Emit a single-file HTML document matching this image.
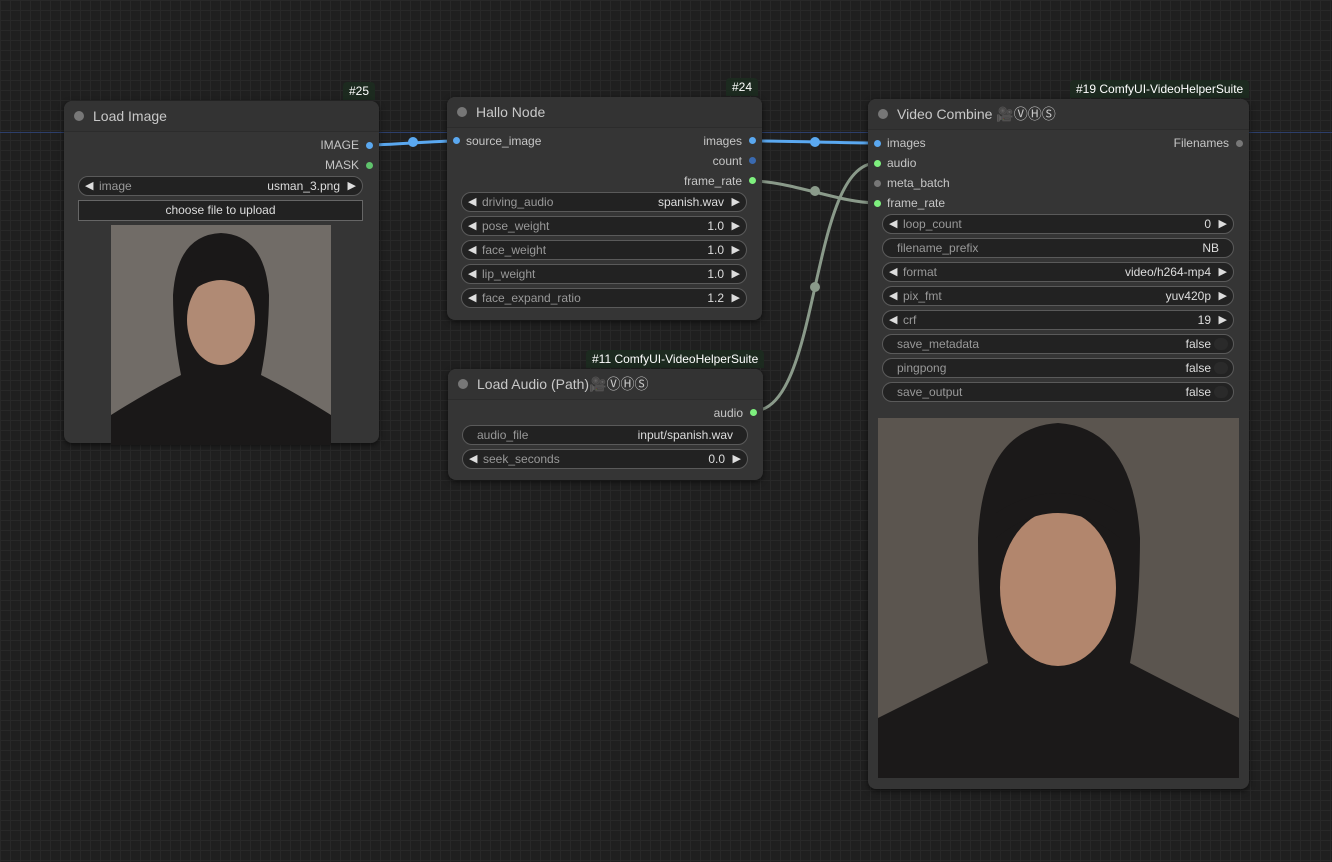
<!DOCTYPE html>
<html><head><style>
body{margin:0;width:1332px;height:862px;overflow:hidden;background:#1f1f1f;
background-image:linear-gradient(#282828 1px,transparent 1px),linear-gradient(90deg,#282828 1px,transparent 1px);background-size:10px 10px;
font-family:"Liberation Sans",sans-serif;position:relative}
.n{position:absolute;background:#353535;border-radius:8px;box-shadow:0 2px 6px rgba(0,0,0,.6)}
.t{height:30px;border-bottom:1px solid #2c2c2c;background:#333;border-radius:8px 8px 0 0;color:#c8c8c8;font-size:14px;line-height:30px;padding-left:29px;position:relative}
.t:before{content:"";position:absolute;left:10px;top:10px;width:10px;height:10px;border-radius:50%;background:#777}
.b{position:absolute;background:#1c2a1f;color:#fff;font-size:12px;height:18px;line-height:18px;padding:0 6px;border-radius:4px 4px 0 0}
.s{position:absolute;font-size:12px;color:#c6c6c6;height:20px;line-height:20px}
.d{position:absolute;width:7px;height:7px;border-radius:50%}
.w{position:absolute;height:18px;border:1px solid #5a5a5a;border-radius:10px;background:#222;font-size:12px;line-height:18px;color:#999}
.w .l{position:absolute;left:20px}.w .v{position:absolute;right:22px;color:#ddd}
.w .a{position:absolute;left:6px;color:#ddd;font-size:11px}.w .z{position:absolute;right:6px;color:#ddd;font-size:11px}
.tg{position:absolute;right:5px;top:3px;width:14px;height:12px;border-radius:6px;background:#2a2a2a}
</style></head><body>
<div style="position:absolute;left:0;top:132px;width:1332px;height:1px;background:#2c3e6a"></div>

<svg width="1332" height="862" style="position:absolute;left:0;top:0;z-index:0">
<path d="M369 145 C390 145,435 141,456 141" stroke="#5aa8f0" stroke-width="3" fill="none"/>
<circle cx="413" cy="142" r="5" fill="#5aa8f0"/>
<path d="M752 141 C790 141,840 143,877 143" stroke="#5aa8f0" stroke-width="3" fill="none"/>
<circle cx="815" cy="142" r="5" fill="#5aa8f0"/>
<path d="M752 181 C790 181,840 203,877 203" stroke="#8a9a8a" stroke-width="3" fill="none"/>
<circle cx="815" cy="191" r="5" fill="#8a9a8a"/>
<path d="M753 411 C822 411,808 163,877 163" stroke="#8a9a8a" stroke-width="3" fill="none"/>
<circle cx="815" cy="287" r="5" fill="#8a9a8a"/>
</svg>

<!-- Load Image -->
<div class="b" style="left:343px;top:82px">#25</div>
<div class="n" style="left:64px;top:101px;width:315px;height:342px">
<div class="t">Load Image</div>
<div class="s" style="right:20px;top:34px">IMAGE</div><div class="d" style="right:6px;top:41px;background:#5aa8f0"></div>
<div class="s" style="right:20px;top:54px">MASK</div><div class="d" style="right:6px;top:61px;background:#5fc36c"></div>
<div class="w" style="left:14px;top:75px;width:283px"><span class="a">◀</span><span class="l">image</span><span class="v">usman_3.png</span><span class="z">▶</span></div>
<div style="position:absolute;left:14px;top:99px;width:283px;height:19px;border:1px solid #666;background:#222;color:#ddd;font-size:12px;text-align:center;line-height:19px">choose file to upload</div>
<svg style="position:absolute;left:47px;top:124px" width="220" height="220">
<rect width="220" height="220" fill="#716c67"/>
<path d="M0 220 L0 190 Q40 165 70 150 Q62 110 62 70 Q66 10 110 8 Q154 10 158 70 Q158 110 150 150 Q180 165 220 190 L220 220Z" fill="#1a1818"/>
<ellipse cx="110" cy="95" rx="34" ry="45" fill="#b08a74"/>
<path d="M76 70 Q110 40 144 70 L144 55 Q110 30 76 55Z" fill="#1a1818"/>
</svg>
</div>

<!-- Hallo -->
<div class="b" style="left:726px;top:78px">#24</div>
<div class="n" style="left:447px;top:97px;width:315px;height:223px">
<div class="t">Hallo Node</div>
<div class="d" style="left:6px;top:40px;background:#5aa8f0"></div><div class="s" style="left:19px;top:34px">source_image</div>
<div class="s" style="right:20px;top:34px">images</div><div class="d" style="right:6px;top:40px;background:#5aa8f0"></div>
<div class="s" style="right:20px;top:54px">count</div><div class="d" style="right:6px;top:60px;background:#3a6ab0"></div>
<div class="s" style="right:20px;top:74px">frame_rate</div><div class="d" style="right:6px;top:80px;background:#7ef07e"></div>
<div class="w" style="left:14px;top:95px;width:284px"><span class="a">◀</span><span class="l">driving_audio</span><span class="v">spanish.wav</span><span class="z">▶</span></div>
<div class="w" style="left:14px;top:119px;width:284px"><span class="a">◀</span><span class="l">pose_weight</span><span class="v">1.0</span><span class="z">▶</span></div>
<div class="w" style="left:14px;top:143px;width:284px"><span class="a">◀</span><span class="l">face_weight</span><span class="v">1.0</span><span class="z">▶</span></div>
<div class="w" style="left:14px;top:167px;width:284px"><span class="a">◀</span><span class="l">lip_weight</span><span class="v">1.0</span><span class="z">▶</span></div>
<div class="w" style="left:14px;top:191px;width:284px"><span class="a">◀</span><span class="l">face_expand_ratio</span><span class="v">1.2</span><span class="z">▶</span></div>
</div>

<!-- Load Audio -->
<div class="b" style="left:586px;top:350px">#11 ComfyUI-VideoHelperSuite</div>
<div class="n" style="left:448px;top:369px;width:315px;height:111px">
<div class="t">Load Audio (Path)🎥ⓋⒽⓈ</div>
<div class="s" style="right:20px;top:34px">audio</div><div class="d" style="right:6px;top:40px;background:#7ef07e"></div>
<div class="w" style="left:14px;top:56px;width:284px"><span class="l" style="left:14px">audio_file</span><span class="v" style="right:14px">input/spanish.wav</span></div>
<div class="w" style="left:14px;top:80px;width:284px"><span class="a">◀</span><span class="l">seek_seconds</span><span class="v">0.0</span><span class="z">▶</span></div>
</div>

<!-- Video Combine -->
<div class="b" style="left:1070px;top:80px">#19 ComfyUI-VideoHelperSuite</div>
<div class="n" style="left:868px;top:99px;width:381px;height:690px">
<div class="t">Video Combine 🎥ⓋⒽⓈ</div>
<div class="d" style="left:6px;top:41px;background:#5aa8f0"></div><div class="s" style="left:19px;top:34px">images</div>
<div class="d" style="left:6px;top:61px;background:#7ef07e"></div><div class="s" style="left:19px;top:54px">audio</div>
<div class="d" style="left:6px;top:81px;background:#777"></div><div class="s" style="left:19px;top:74px">meta_batch</div>
<div class="d" style="left:6px;top:101px;background:#7ef07e"></div><div class="s" style="left:19px;top:94px">frame_rate</div>
<div class="s" style="right:20px;top:34px">Filenames</div><div class="d" style="right:6px;top:41px;background:#777"></div>
<div class="w" style="left:14px;top:115px;width:350px"><span class="a">◀</span><span class="l">loop_count</span><span class="v">0</span><span class="z">▶</span></div>
<div class="w" style="left:14px;top:139px;width:350px"><span class="l" style="left:14px">filename_prefix</span><span class="v" style="right:14px">NB</span></div>
<div class="w" style="left:14px;top:163px;width:350px"><span class="a">◀</span><span class="l">format</span><span class="v">video/h264-mp4</span><span class="z">▶</span></div>
<div class="w" style="left:14px;top:187px;width:350px"><span class="a">◀</span><span class="l">pix_fmt</span><span class="v">yuv420p</span><span class="z">▶</span></div>
<div class="w" style="left:14px;top:211px;width:350px"><span class="a">◀</span><span class="l">crf</span><span class="v">19</span><span class="z">▶</span></div>
<div class="w" style="left:14px;top:235px;width:350px"><span class="l" style="left:14px">save_metadata</span><span class="v">false</span><div class="tg"></div></div>
<div class="w" style="left:14px;top:259px;width:350px"><span class="l" style="left:14px">pingpong</span><span class="v">false</span><div class="tg"></div></div>
<div class="w" style="left:14px;top:283px;width:350px"><span class="l" style="left:14px">save_output</span><span class="v">false</span><div class="tg"></div></div>
<svg style="position:absolute;left:10px;top:319px" width="361" height="360">
<rect width="361" height="360" fill="#5b554f"/>
<path d="M0 360 L0 300 Q60 270 110 245 Q100 190 100 120 Q105 10 180 5 Q255 10 262 120 Q262 190 252 245 Q300 270 361 300 L361 360Z" fill="#1b1919"/>
<ellipse cx="180" cy="170" rx="58" ry="78" fill="#b2866d"/>
<path d="M118 120 Q180 70 242 120 L242 95 Q180 55 118 95Z" fill="#1b1919"/>
</svg>
</div>
</body></html>
